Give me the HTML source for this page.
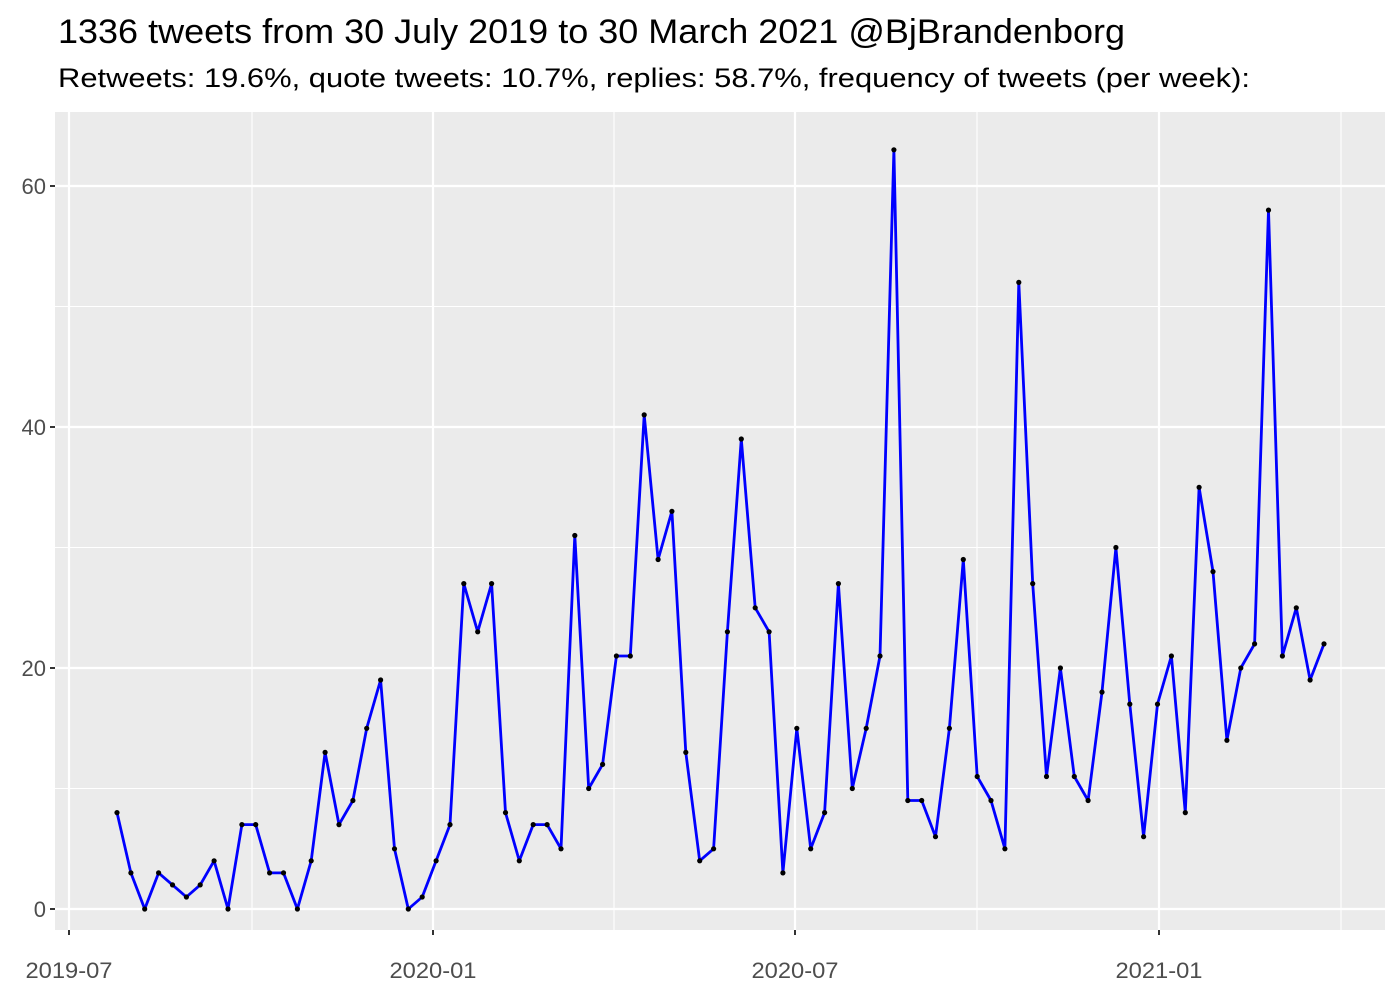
<!DOCTYPE html>
<html><head><meta charset="utf-8"><style>
html,body{margin:0;padding:0;background:#fff;}
svg{display:block;font-family:"Liberation Sans",sans-serif;}
</style></head><body>
<svg id="s" width="1400" height="1000" xmlns="http://www.w3.org/2000/svg">
<rect width="1400" height="1000" fill="#fff"/>
<text x="58" y="43" font-size="34" fill="#000" textLength="1067" lengthAdjust="spacingAndGlyphs">1336 tweets from 30 July 2019 to 30 March 2021 @BjBrandenborg</text>
<text x="58" y="87" font-size="27" fill="#000" textLength="1192" lengthAdjust="spacingAndGlyphs">Retweets: 19.6%, quote tweets: 10.7%, replies: 58.7%, frequency of tweets (per week):</text>
<rect x="55" y="112" width="1330" height="818" fill="#ebebeb"/>
<g id="g"></g>
</svg>
<script>
var g=document.getElementById('g'),h='';
function y(v){return 909-v*12.05;}
[10,30,50].forEach(function(v){h+='<line x1="55" x2="1385" y1="'+y(v)+'" y2="'+y(v)+'" stroke="#fff" stroke-width="1.1"/>';});
[252,614,977,1341].forEach(function(x){h+='<line x1="'+x+'" x2="'+x+'" y1="112" y2="930" stroke="#fff" stroke-width="1.1"/>';});
[0,20,40,60].forEach(function(v){h+='<line x1="55" x2="1385" y1="'+y(v)+'" y2="'+y(v)+'" stroke="#fff" stroke-width="2.2"/>';
h+='<line x1="50" x2="55" y1="'+y(v)+'" y2="'+y(v)+'" stroke="#333" stroke-width="2"/>';
h+='<text x="46" y="'+(y(v)+8)+'" font-size="22" fill="#4d4d4d" text-anchor="end">'+v+'</text>';});
[[69,'2019-07'],[433,'2020-01'],[795,'2020-07'],[1159,'2021-01']].forEach(function(t){
h+='<line x1="'+t[0]+'" x2="'+t[0]+'" y1="112" y2="930" stroke="#fff" stroke-width="2.2"/>';
h+='<line x1="'+t[0]+'" x2="'+t[0]+'" y1="930" y2="935" stroke="#333" stroke-width="2"/>';
h+='<text x="'+(t[0]-43.5)+'" y="978" font-size="22" fill="#4d4d4d" textLength="87" lengthAdjust="spacingAndGlyphs">'+t[1]+'</text>';});
var d=[8,3,0,3,2,1,2,4,0,7,7,3,3,0,4,13,7,9,15,19,5,0,1,4,7,27,23,27,8,4,7,7,5,31,10,12,21,21,41,29,33,13,4,5,23,39,25,23,3,15,5,8,27,10,15,21,63,9,9,6,15,29,11,9,5,52,27,11,20,11,9,18,30,17,6,17,21,8,35,28,14,20,22,58,21,25,19,22];
var st=(1324-117)/(d.length-1),p=[];
d.forEach(function(v,i){p.push((117+i*st).toFixed(1)+','+y(v).toFixed(1));});
h+='<polyline points="'+p.join(' ')+'" fill="none" stroke="#0000ff" stroke-width="2.8" stroke-linejoin="round"/>';
p.forEach(function(q){var a=q.split(',');h+='<circle cx="'+a[0]+'" cy="'+a[1]+'" r="2.6" fill="#000"/>';});
g.innerHTML=h;
</script>
</body></html>
